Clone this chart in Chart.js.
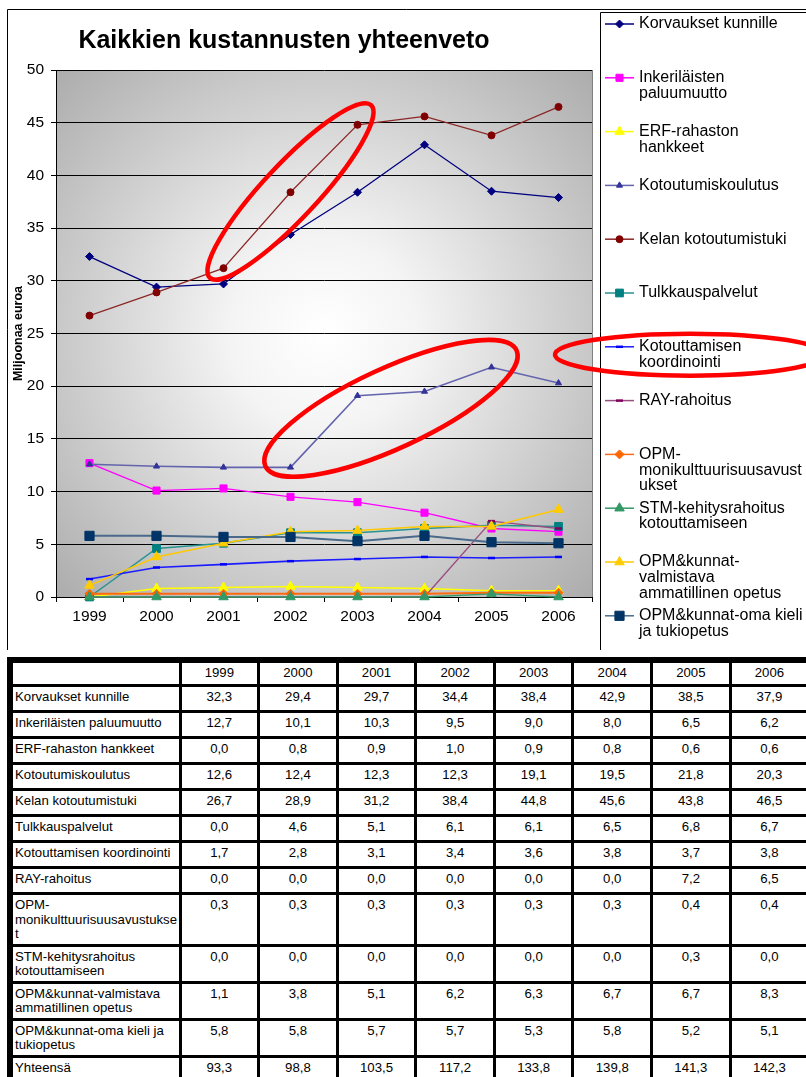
<!DOCTYPE html>
<html lang="fi">
<head>
<meta charset="utf-8">
<title>Kaikkien kustannusten yhteenveto</title>
<script src="https://cdn.jsdelivr.net/npm/chart.js@4.4.1/dist/chart.umd.min.js"></script>
<style>
  html, body { margin: 0; padding: 0; background: #fff; }
  #page { position: relative; width: 806px; height: 1077px; overflow: hidden; background: #fff; }
  #chart { position: absolute; left: 0; top: 0; }
  #costTable {
    position: absolute; left: 7px; top: 657px; width: 799px;
    border-collapse: collapse; table-layout: fixed;
    font: 13.2px "Liberation Sans", Arial, sans-serif; color: #000;
    border-left: 6px solid #000; border-top: 6px solid #000;
  }
  #costTable td {
    border: 3px solid #000; padding: 3px 2px 2px 2px;
    line-height: 14.5px; height: 18px;
    vertical-align: top; text-align: center; overflow: hidden;
  }
  #costTable td.name { text-align: left; padding-left: 2px; padding-right: 0; overflow-wrap: anywhere; }
  #costTable tr.head td { height: 16px; }
</style>
</head>
<body>
<div id="page">
  <canvas id="chart" width="806" height="650"></canvas>
  <table id="costTable"></table>
</div>
<script>
// Kustannukset vuosittain, miljoonaa euroa
const years = ['1999', '2000', '2001', '2002', '2003', '2004', '2005', '2006'];

const seriesNames = [
  'Korvaukset kunnille',
  'Inkeriläisten paluumuutto',
  'ERF-rahaston hankkeet',
  'Kotoutumiskoulutus',
  'Kelan kotoutumistuki',
  'Tulkkauspalvelut',
  'Kotouttamisen koordinointi',
  'RAY-rahoitus',
  'OPM-monikulttuurisuusavustukset',
  'STM-kehitysrahoitus kotouttamiseen',
  'OPM&kunnat-valmistava ammatillinen opetus',
  'OPM&kunnat-oma kieli ja tukiopetus'
];

const korvaukset   = [32.3, 29.4, 29.7, 34.4, 38.4, 42.9, 38.5, 37.9];
const inkerilaiset = [12.7, 10.1, 10.3, 9.5, 9.0, 8.0, 6.5, 6.2];
const erf          = [0.0, 0.8, 0.9, 1.0, 0.9, 0.8, 0.6, 0.6];
const koulutus     = [12.6, 12.4, 12.3, 12.3, 19.1, 19.5, 21.8, 20.3];
const kela         = [26.7, 28.9, 31.2, 38.4, 44.8, 45.6, 43.8, 46.5];
const tulkkaus     = [0.0, 4.6, 5.1, 6.1, 6.1, 6.5, 6.8, 6.7];
const koordinointi = [1.7, 2.8, 3.1, 3.4, 3.6, 3.8, 3.7, 3.8];
const ray          = [0.0, 0.0, 0.0, 0.0, 0.0, 0.0, 7.2, 6.5];
const opmMoni      = [0.3, 0.3, 0.3, 0.3, 0.3, 0.3, 0.4, 0.4];
const stm          = [0.0, 0.0, 0.0, 0.0, 0.0, 0.0, 0.3, 0.0];
const valmistava   = [1.1, 3.8, 5.1, 6.2, 6.3, 6.7, 6.7, 8.3];
const omaKieli     = [5.8, 5.8, 5.7, 5.7, 5.3, 5.8, 5.2, 5.1];
const totals       = [93.3, 98.8, 103.5, 117.2, 133.8, 139.8, 141.3, 142.3];

const seriesValues = [korvaukset, inkerilaiset, erf, koulutus, kela, tulkkaus,
  koordinointi, ray, opmMoni, stm, valmistava, omaKieli];

// Selitteen rivitys
const legendLines = [
  ['Korvaukset kunnille'],
  ['Inkeriläisten', 'paluumuutto'],
  ['ERF-rahaston', 'hankkeet'],
  ['Kotoutumiskoulutus'],
  ['Kelan kotoutumistuki'],
  ['Tulkkauspalvelut'],
  ['Kotouttamisen', 'koordinointi'],
  ['RAY-rahoitus'],
  ['OPM-', 'monikulttuurisuusavust', 'ukset'],
  ['STM-kehitysrahoitus', 'kotouttamiseen'],
  ['OPM&kunnat-', 'valmistava', 'ammatillinen opetus'],
  ['OPM&kunnat-oma kieli', 'ja tukiopetus']
];

const chartTitle = 'Kaikkien kustannusten yhteenveto';
const axisTitle = 'Miljoonaa euroa';
const totalLabel = 'Yhteensä';

const FONT = '"Liberation Sans", Arial, sans-serif';

// Viivojen ja merkkien tyylit sarjoittain
const seriesStyles = [
  { line: '#000080', marker: '#000080', shape: 'rectRot',  r: 4,   w: 1.3 },
  { line: '#ff00ff', marker: '#ff00ff', shape: 'rect',     r: 5,   w: 1.3 },
  { line: '#ffff00', marker: '#ffff00', shape: 'triangle', r: 5.5, w: 1.6 },
  { line: '#6464ae', marker: '#333399', shape: 'triangle', r: 3.5, w: 1.6 },
  { line: '#8c2626', marker: '#800000', shape: 'circle',   r: 3.5, w: 1.2 },
  { line: '#269292', marker: '#008080', shape: 'rect',     r: 5.5, w: 1.5 },
  { line: '#1c1cff', marker: '#0000ff', shape: 'line',     r: 3.5, w: 1.6 },
  { line: '#9a4d80', marker: '#800060', shape: 'line',     r: 3.5, w: 1.4 },
  { line: '#ff6a10', marker: '#ff6600', shape: 'rectRot',  r: 4.5, w: 2 },
  { line: '#339966', marker: '#339966', shape: 'triangle', r: 5.5, w: 1.3 },
  { line: '#ffc800', marker: '#ffcc00', shape: 'triangle', r: 5.5, w: 1.5 },
  { line: '#4a6a8c', marker: '#003366', shape: 'rect',     r: 6.5, w: 2 }
];

// Korostusrenkaat: sarja ja pisteväli, jota rengas kiertää
const dataRings = [
  { series: 4, from: 2, to: 4, extend: 20, half: 27, lift: -5, tilt: 0 },
  { series: 3, from: 3, to: 6, extend: 26, half: 40, lift: -9, tilt: 0.03 }
];
const legendRingItem = 6;

// Selitelaatikon mitat
const legendBox = { left: 600, top: 12, bottom: 650, firstY: 24, step: 53.8, lineGap: 15.7,
  lineFrom: 605, lineTo: 634, textX: 639 };

function drawMarker(ctx, st, x, y) {
  ctx.save();
  ctx.fillStyle = st.marker;
  ctx.strokeStyle = st.marker;
  ctx.lineWidth = st.shape === 'line' ? 2.5 : 1;
  if (Chart.helpers && Chart.helpers.drawPoint) {
    Chart.helpers.drawPoint(ctx, { pointStyle: st.shape, radius: st.r, rotation: 0,
      borderWidth: ctx.lineWidth }, x, y);
  } else {
    ctx.beginPath();
    ctx.arc(x, y, st.r, 0, Math.PI * 2);
    ctx.fill();
  }
  ctx.restore();
}

const plotBackground = {
  id: 'plotBackground',
  beforeDraw(chart) {
    const { ctx, chartArea: a } = chart;
    const cx = (a.left + a.right) / 2, cy = (a.top + a.bottom) / 2;
    const r = Math.hypot(a.right - a.left, a.bottom - a.top) / 2;
    const g = ctx.createRadialGradient(cx, cy, 0, cx, cy, r);
    g.addColorStop(0, '#ffffff');
    g.addColorStop(0.25, '#f4f4f4');
    g.addColorStop(1, '#acacac');
    ctx.save();
    ctx.fillStyle = g;
    ctx.fillRect(a.left, a.top, a.right - a.left, a.bottom - a.top);
    ctx.restore();
  },
  beforeDatasetsDraw(chart) {
    const { ctx, chartArea: a } = chart;
    ctx.save();
    ctx.strokeStyle = '#808080';
    ctx.lineWidth = 1;
    ctx.beginPath();
    ctx.moveTo(Math.round(a.right) + 0.5, a.top);
    ctx.lineTo(Math.round(a.right) + 0.5, a.bottom);
    ctx.stroke();
    ctx.restore();
  }
};

const frameAndLegend = {
  id: 'frameAndLegend',
  afterDraw(chart) {
    const ctx = chart.ctx;
    const W = chart.width, H = chart.height;
    ctx.save();
    // kehys
    ctx.strokeStyle = '#000';
    ctx.lineWidth = 1;
    ctx.beginPath();
    ctx.moveTo(7.5, H);
    ctx.lineTo(7.5, 9.5);
    ctx.lineTo(W, 9.5);
    ctx.stroke();

    // otsikko
    ctx.fillStyle = '#000';
    ctx.font = 'bold 25px ' + FONT;
    ctx.textAlign = 'center';
    ctx.textBaseline = 'middle';
    ctx.fillText(chartTitle, 284, 41);

    // selite
    ctx.beginPath();
    ctx.moveTo(legendBox.left + 0.5, legendBox.bottom);
    ctx.lineTo(legendBox.left + 0.5, legendBox.top + 0.5);
    ctx.lineTo(W, legendBox.top + 0.5);
    ctx.stroke();

    ctx.font = '16px ' + FONT;
    ctx.textAlign = 'left';
    chart.data.datasets.forEach((ds, i) => {
      const st = seriesStyles[i];
      const y = legendBox.firstY + i * legendBox.step;
      ctx.strokeStyle = st.line;
      ctx.lineWidth = 1.5;
      ctx.beginPath();
      ctx.moveTo(legendBox.lineFrom, y);
      ctx.lineTo(legendBox.lineTo, y);
      ctx.stroke();
      drawMarker(ctx, st, (legendBox.lineFrom + legendBox.lineTo) / 2, y);
      ctx.fillStyle = '#000';
      legendLines[i].forEach((txt, k) => {
        ctx.fillText(txt, legendBox.textX, y + k * legendBox.lineGap);
      });
    });

    // korostusrenkaat
    ctx.strokeStyle = '#ff0000';
    ctx.lineWidth = 4.5;
    dataRings.forEach(ring => {
      const pts = chart.getDatasetMeta(ring.series).data;
      const a = pts[ring.from], b = pts[ring.to];
      const cx = (a.x + b.x) / 2, cy = (a.y + b.y) / 2 + ring.lift;
      const ang = Math.atan2(b.y - a.y, b.x - a.x) + ring.tilt;
      const rx = Math.hypot(b.x - a.x, b.y - a.y) / 2 + ring.extend;
      ctx.beginPath();
      ctx.ellipse(cx, cy, rx, ring.half, ang, 0, Math.PI * 2);
      ctx.stroke();
    });
    const ly = legendBox.firstY + legendRingItem * legendBox.step + legendBox.lineGap / 2;
    ctx.beginPath();
    ctx.ellipse(legendBox.left + 90, ly, 135, 21, 0, 0, Math.PI * 2);
    ctx.stroke();
    ctx.restore();
  }
};

const n = seriesNames.length;
new Chart(document.getElementById('chart'), {
  type: 'line',
  data: {
    labels: years,
    datasets: seriesNames.map((name, i) => {
      const st = seriesStyles[i];
      return {
        label: name,
        data: seriesValues[i],
        borderColor: st.line,
        borderWidth: st.w,
        backgroundColor: st.marker,
        pointStyle: st.shape,
        pointRadius: st.r,
        pointHoverRadius: st.r,
        pointBackgroundColor: st.marker,
        pointBorderColor: st.marker,
        pointBorderWidth: st.shape === 'line' ? 2.5 : 1,
        tension: 0,
        clip: false,
        order: n - i
      };
    })
  },
  options: {
    responsive: false,
    animation: false,
    devicePixelRatio: 1,
    events: [],
    layout: { padding: { left: 7, top: 70, right: 214, bottom: 0 } },
    plugins: {
      legend: { display: false },
      title: { display: false },
      tooltip: { enabled: false }
    },
    scales: {
      x: {
        offset: true,
        grid: { offset: true, drawOnChartArea: false, drawTicks: true, tickLength: 5, color: '#000' },
        border: { color: '#000', width: 1 },
        ticks: { color: '#000', font: { family: FONT, size: 15.5 }, padding: 5, maxRotation: 0, autoSkip: false },
        afterFit(scale) { scale.height = 53; }
      },
      y: {
        min: 0,
        max: 50,
        ticks: { stepSize: 5, color: '#000', font: { family: FONT, size: 15.5 }, padding: 7 },
        grid: { color: '#000', lineWidth: 1, tickLength: 5 },
        border: { color: '#000', width: 1 },
        title: {
          display: true, text: axisTitle, color: '#000',
          font: { family: FONT, size: 12.5, weight: 'bold' },
          padding: { top: 4, bottom: 0 }
        },
        afterFit(scale) { scale.width = 49; }
      }
    }
  },
  plugins: [plotBackground, frameAndLegend]
});

// Taulukko
function fmt(v) { return v.toFixed(1).replace('.', ','); }
const table = document.getElementById('costTable');
let html = '<colgroup><col style="width:170px">' + years.map(() => '<col style="width:78.6px">').join('') + '</colgroup>';
html += '<tr class="head"><td class="name"></td>' + years.map(y => '<td>' + y + '</td>').join('') + '</tr>';
seriesNames.forEach((name, i) => {
  html += '<tr><td class="name">' + name.replace(/&/g, '&amp;') + '</td>' +
    seriesValues[i].map(v => '<td>' + fmt(v) + '</td>').join('') + '</tr>';
});
html += '<tr><td class="name">' + totalLabel + '</td>' + totals.map(v => '<td>' + fmt(v) + '</td>').join('') + '</tr>';
table.innerHTML = html;
</script>
</body>
</html>
